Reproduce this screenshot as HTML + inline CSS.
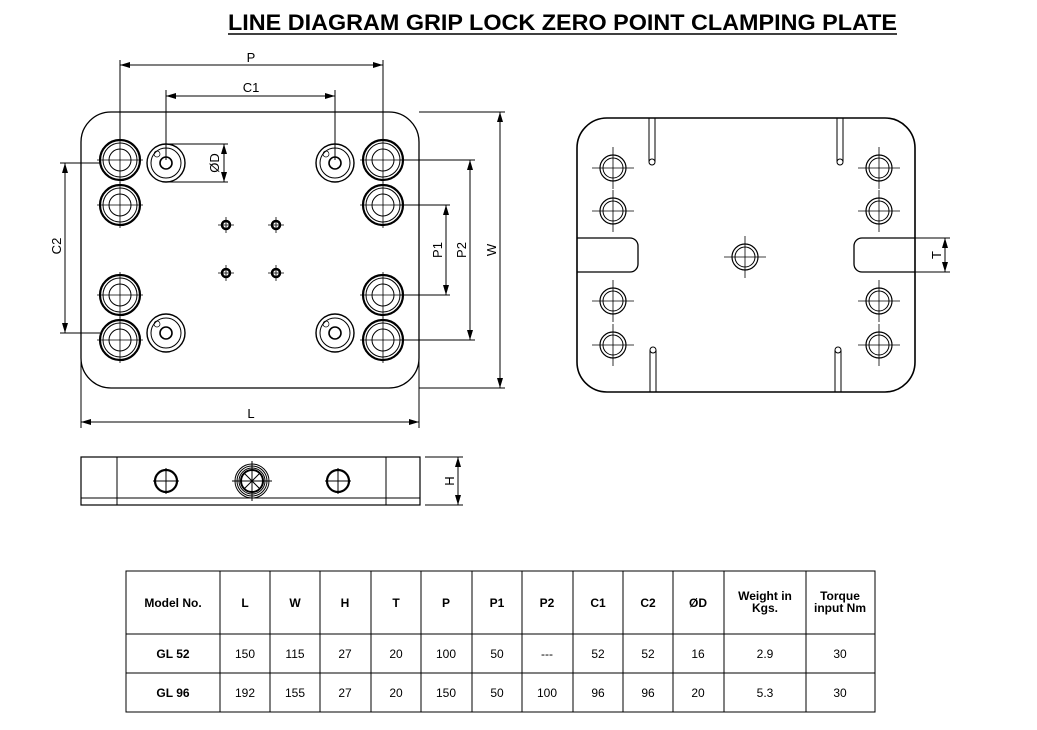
<!DOCTYPE html>
<html><head><style>
body{margin:0;background:#fff;width:1037px;height:725px;overflow:hidden;font-family:"Liberation Sans",sans-serif}
</style></head><body>
<svg width="1037" height="725" xmlns="http://www.w3.org/2000/svg" font-family="Liberation Sans, sans-serif">
<defs>
<marker id="a" markerWidth="10" markerHeight="6" refX="10" refY="3" orient="auto-start-reverse"><path d="M0,0 L10,3 L0,6 z" fill="#000"/></marker>
<g id="bh"><circle r="20" fill="none" stroke="#000" stroke-width="2.2"/><circle r="17" fill="none" stroke="#000" stroke-width="1"/><circle r="11" fill="none" stroke="#000" stroke-width="1"/><path d="M-23,0H23M0,-23V23M-5,0H5" stroke="#000" stroke-width="0.8"/></g>
<g id="ph"><circle r="19" fill="none" stroke="#000" stroke-width="1.4"/><circle r="15" fill="none" stroke="#000" stroke-width="1"/><circle r="6" fill="none" stroke="#000" stroke-width="1.6"/><circle cx="-9" cy="-9" r="3" fill="none" stroke="#000" stroke-width="0.7"/></g>
<g id="sh"><circle r="4" fill="none" stroke="#000" stroke-width="2.5"/><path d="M-8,0H8M0,-8V8" stroke="#000" stroke-width="0.8"/></g>
<g id="rh"><circle r="13" fill="none" stroke="#000" stroke-width="1.2"/><circle r="10" fill="none" stroke="#000" stroke-width="1"/><path d="M-21,0H21M0,-21V21M-5,0H5M0,-5V5" stroke="#000" stroke-width="0.8"/></g>
</defs>
<text x="228" y="30" font-size="22" font-weight="bold" textLength="669" lengthAdjust="spacingAndGlyphs">LINE DIAGRAM GRIP LOCK ZERO POINT CLAMPING PLATE</text>
<line x1="228" y1="34" x2="897" y2="34" stroke="#000" stroke-width="1.5"/>
<g stroke="#000" fill="none" stroke-width="1">
<rect x="81" y="112" width="338" height="276" rx="30" stroke-width="1.3"/>
<path d="M120,60V140M383,60V140M166,90V160M335,90V160"/>
<line x1="120" y1="65" x2="383" y2="65" marker-start="url(#a)" marker-end="url(#a)"/>
<line x1="166" y1="96" x2="335" y2="96" marker-start="url(#a)" marker-end="url(#a)"/>
<path d="M166,144H228M166,182H228"/>
<line x1="224" y1="144" x2="224" y2="182" marker-start="url(#a)" marker-end="url(#a)"/>
<path d="M60,163H100M60,333H100"/>
<line x1="65" y1="163" x2="65" y2="333" marker-start="url(#a)" marker-end="url(#a)"/>
<path d="M400,205H450M400,295H450M400,160H475M400,340H475M419,112H505M419,388H505"/>
<line x1="446" y1="205" x2="446" y2="295" marker-start="url(#a)" marker-end="url(#a)"/>
<line x1="470" y1="160" x2="470" y2="340" marker-start="url(#a)" marker-end="url(#a)"/>
<line x1="500" y1="112" x2="500" y2="388" marker-start="url(#a)" marker-end="url(#a)"/>
<path d="M81,300V428M419,300V428"/>
<line x1="81" y1="422" x2="419" y2="422" marker-start="url(#a)" marker-end="url(#a)"/>
<rect x="81" y="457" width="339" height="48" stroke-width="1.2"/>
<path d="M117,457V505M386,457V505M81,498H420M425,457H463M425,505H463"/>
<line x1="458" y1="457" x2="458" y2="505" marker-start="url(#a)" marker-end="url(#a)"/>
<circle cx="166" cy="481" r="11" stroke-width="2.2"/><path d="M153,481H179M166,468V494M161,481H171"/>
<circle cx="338" cy="481" r="11" stroke-width="2.2"/><path d="M325,481H351M338,468V494"/>
<circle cx="252" cy="481" r="17" stroke-width="1"/><circle cx="252" cy="481" r="15"/><circle cx="252" cy="481" r="13"/><circle cx="252" cy="481" r="11" stroke-width="2"/>
<path d="M244,473L260,489M260,473L244,489M232,481H272M252,461V501"/>
<rect x="577" y="118" width="338" height="274" rx="30" stroke-width="1.6"/>
<path d="M577,238H630A8,8 0 0 1 638,246V264A8,8 0 0 1 630,272H577" stroke-width="1.3"/>
<path d="M915,238H862A8,8 0 0 0 854,246V264A8,8 0 0 0 862,272H915" stroke-width="1.3"/>
<path d="M915,238H950M915,272H950"/>
<line x1="945" y1="238" x2="945" y2="272" marker-start="url(#a)" marker-end="url(#a)"/>
<path d="M649,118V162M655,118V162M837,118V162M843,118V162M650,392V350M656,392V350M835,392V350M841,392V350"/>
<circle cx="652" cy="162" r="3"/><circle cx="840" cy="162" r="3"/><circle cx="653" cy="350" r="3"/><circle cx="838" cy="350" r="3"/>
</g>
<g fill="#000" font-size="13">
<text x="251" y="62" text-anchor="middle">P</text>
<text x="251" y="92" text-anchor="middle">C1</text>
<text x="251" y="418" text-anchor="middle">L</text>
<text transform="translate(219,163) rotate(-90)" text-anchor="middle">ØD</text>
<text transform="translate(61,246) rotate(-90)" text-anchor="middle">C2</text>
<text transform="translate(442,250) rotate(-90)" text-anchor="middle">P1</text>
<text transform="translate(466,250) rotate(-90)" text-anchor="middle">P2</text>
<text transform="translate(496,250) rotate(-90)" text-anchor="middle">W</text>
<text transform="translate(454,481) rotate(-90)" text-anchor="middle">H</text>
<text transform="translate(941,255) rotate(-90)" text-anchor="middle">T</text>
</g>
<use href="#bh" x="120" y="160"/><use href="#bh" x="120" y="205"/><use href="#bh" x="120" y="295"/><use href="#bh" x="120" y="340"/>
<use href="#bh" x="383" y="160"/><use href="#bh" x="383" y="205"/><use href="#bh" x="383" y="295"/><use href="#bh" x="383" y="340"/>
<use href="#ph" x="166" y="163"/><use href="#ph" x="335" y="163"/><use href="#ph" x="166" y="333"/><use href="#ph" x="335" y="333"/>
<use href="#sh" x="226" y="225"/><use href="#sh" x="276" y="225"/><use href="#sh" x="226" y="273"/><use href="#sh" x="276" y="273"/>
<use href="#rh" x="613" y="168"/><use href="#rh" x="613" y="211"/><use href="#rh" x="613" y="301"/><use href="#rh" x="613" y="345"/>
<use href="#rh" x="879" y="168"/><use href="#rh" x="879" y="211"/><use href="#rh" x="879" y="301"/><use href="#rh" x="879" y="345"/>
<use href="#rh" x="745" y="257"/>
<g stroke="#000" stroke-width="1" fill="none">
<rect x="126" y="571" width="749" height="141"/>
<path d="M126,634H875M126,673H875M220,571V712M270,571V712M320,571V712M371,571V712M421,571V712M472,571V712M522,571V712M573,571V712M623,571V712M673,571V712M724,571V712M806,571V712"/>
</g>
<g font-size="12" text-anchor="middle" fill="#000">
<g font-weight="bold">
<text x="173" y="607">Model No.</text><text x="245" y="607">L</text><text x="295" y="607">W</text><text x="345" y="607">H</text><text x="396" y="607">T</text><text x="446" y="607">P</text><text x="497" y="607">P1</text><text x="547" y="607">P2</text><text x="598" y="607">C1</text><text x="648" y="607">C2</text><text x="698" y="607">ØD</text>
<text x="765" y="600">Weight in</text><text x="765" y="612">Kgs.</text><text x="840" y="600">Torque</text><text x="840" y="612">input Nm</text>
<text x="173" y="658">GL 52</text><text x="173" y="697">GL 96</text>
</g>
<text x="245" y="658">150</text><text x="295" y="658">115</text><text x="345" y="658">27</text><text x="396" y="658">20</text><text x="446" y="658">100</text><text x="497" y="658">50</text><text x="547" y="658">---</text><text x="598" y="658">52</text><text x="648" y="658">52</text><text x="698" y="658">16</text><text x="765" y="658">2.9</text><text x="840" y="658">30</text>
<text x="245" y="697">192</text><text x="295" y="697">155</text><text x="345" y="697">27</text><text x="396" y="697">20</text><text x="446" y="697">150</text><text x="497" y="697">50</text><text x="547" y="697">100</text><text x="598" y="697">96</text><text x="648" y="697">96</text><text x="698" y="697">20</text><text x="765" y="697">5.3</text><text x="840" y="697">30</text>
</g>
</svg>
</body></html>
